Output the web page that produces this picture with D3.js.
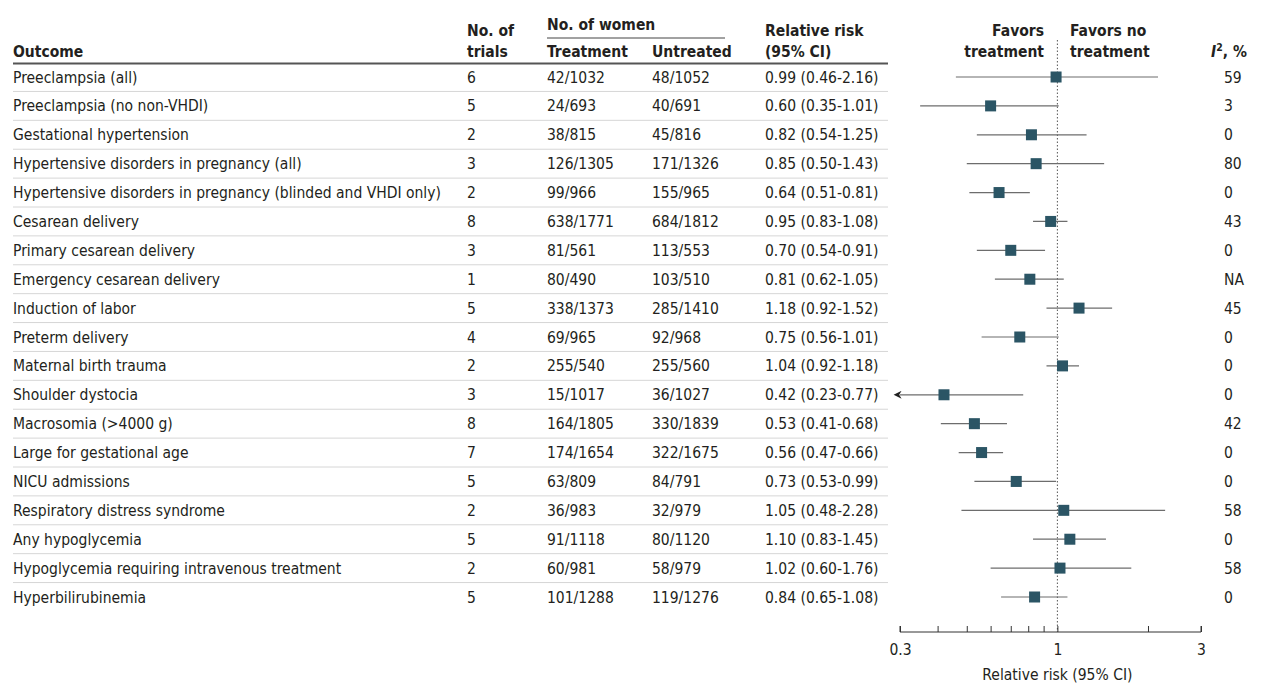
<!DOCTYPE html>
<html>
<head>
<meta charset="utf-8">
<script src="https://cdn.jsdelivr.net/npm/d3@7"></script>
<style>
  body { margin: 0; background: #fff; }
  svg text { font-family: "DejaVu Sans Condensed", "DejaVu Sans", sans-serif; fill: #231f20; }
</style>
</head>
<body>
<svg id="chart" width="1267" height="685"></svg>
<script>
var outcomes = [
  "Preeclampsia (all)",
  "Preeclampsia (no non-VHDI)",
  "Gestational hypertension",
  "Hypertensive disorders in pregnancy (all)",
  "Hypertensive disorders in pregnancy (blinded and VHDI only)",
  "Cesarean delivery",
  "Primary cesarean delivery",
  "Emergency cesarean delivery",
  "Induction of labor",
  "Preterm delivery",
  "Maternal birth trauma",
  "Shoulder dystocia",
  "Macrosomia (>4000 g)",
  "Large for gestational age",
  "NICU admissions",
  "Respiratory distress syndrome",
  "Any hypoglycemia",
  "Hypoglycemia requiring intravenous treatment",
  "Hyperbilirubinemia"
];
var trials = [6, 5, 2, 3, 2, 8, 3, 1, 5, 4, 2, 3, 8, 7, 5, 2, 5, 2, 5];
var treated = ["42/1032", "24/693", "38/815", "126/1305", "99/966", "638/1771", "81/561", "80/490",
  "338/1373", "69/965", "255/540", "15/1017", "164/1805", "174/1654", "63/809", "36/983",
  "91/1118", "60/981", "101/1288"];
var untreated = ["48/1052", "40/691", "45/816", "171/1326", "155/965", "684/1812", "113/553", "103/510",
  "285/1410", "92/968", "255/560", "36/1027", "330/1839", "322/1675", "84/791", "32/979",
  "80/1120", "58/979", "119/1276"];
var rr = [0.99, 0.60, 0.82, 0.85, 0.64, 0.95, 0.70, 0.81, 1.18, 0.75, 1.04, 0.42, 0.53, 0.56, 0.73, 1.05, 1.10, 1.02, 0.84];
var lower = [0.46, 0.35, 0.54, 0.50, 0.51, 0.83, 0.54, 0.62, 0.92, 0.56, 0.92, 0.23, 0.41, 0.47, 0.53, 0.48, 0.83, 0.60, 0.65];
var upper = [2.16, 1.01, 1.25, 1.43, 0.81, 1.08, 0.91, 1.05, 1.52, 1.01, 1.18, 0.77, 0.68, 0.66, 0.99, 2.28, 1.45, 1.76, 1.08];
var i2 = ["59", "3", "0", "80", "0", "43", "0", "NA", "45", "0", "0", "0", "42", "0", "0", "58", "0", "58", "0"];
var tickValues = [0.3, 0.4, 0.5, 0.6, 0.7, 0.8, 0.9, 1, 2, 3];
var tickLabels = {0.3: "0.3", 1: "1", 3: "3"};

var svg = d3.select("#chart");
var fs = 15.5;
var dark = "#2b5565";

var x = d3.scaleLog().domain([0.3, 3]).range([900, 1201]);
var y = d3.scaleLinear().domain([0, outcomes.length - 1]).range([77, 597]);
var step = y(1) - y(0);

var fmt = function (v) { return v.toFixed(2); };
var rows = outcomes.map(function (d, i) {
  return { name: d, trials: trials[i], t: treated[i], u: untreated[i],
    rr: rr[i], lo: lower[i], hi: upper[i], i2: i2[i], i: i };
});

// header
var head = svg.append("g").attr("font-size", fs).attr("font-weight", 600);
head.append("text").attr("x", 13).attr("y", 57).text("Outcome");
head.append("text").attr("x", 467).attr("y", 36).text("No. of");
head.append("text").attr("x", 467).attr("y", 57).text("trials");
head.append("text").attr("x", 547).attr("y", 30).text("No. of women");
head.append("text").attr("x", 547).attr("y", 57).text("Treatment");
head.append("text").attr("x", 652).attr("y", 57).text("Untreated");
head.append("text").attr("x", 765).attr("y", 36).text("Relative risk");
head.append("text").attr("x", 765).attr("y", 57).text("(95% CI)");
head.append("text").attr("x", 1044).attr("y", 36).attr("text-anchor", "end").text("Favors");
head.append("text").attr("x", 1044).attr("y", 57).attr("text-anchor", "end").text("treatment");
head.append("text").attr("x", 1070).attr("y", 36).text("Favors no");
head.append("text").attr("x", 1070).attr("y", 57).text("treatment");
var i2t = head.append("text").attr("x", 1211).attr("y", 57);
i2t.append("tspan").attr("font-style", "italic").text("I");
i2t.append("tspan").attr("font-size", 10.5).attr("dy", -6).text("2");
i2t.append("tspan").attr("dy", 6).text(", %");

svg.append("line").attr("x1", 547).attr("x2", 725).attr("y1", 38).attr("y2", 38)
  .attr("stroke", "#444").attr("stroke-width", 1);
svg.append("line").attr("x1", 13).attr("x2", 888).attr("y1", 63.5).attr("y2", 63.5)
  .attr("stroke", "#555").attr("stroke-width", 2);

// row separators
svg.append("g").selectAll("line")
  .data(rows.slice(0, -1))
  .enter().append("line")
  .attr("x1", 13).attr("x2", 888)
  .attr("y1", function (d) { return y(d.i) + step / 2; })
  .attr("y2", function (d) { return y(d.i) + step / 2; })
  .attr("stroke", "#d6d6d6").attr("stroke-width", 1);

// table text
var body = svg.append("g").attr("font-size", fs);
var row = body.selectAll("g.row").data(rows).enter().append("g")
  .attr("class", "row")
  .attr("transform", function (d) { return "translate(0," + (y(d.i) + 5.5) + ")"; });
row.append("text").attr("x", 13).text(function (d) { return d.name; });
row.append("text").attr("x", 467).text(function (d) { return d.trials; });
row.append("text").attr("x", 547).text(function (d) { return d.t; });
row.append("text").attr("x", 652).text(function (d) { return d.u; });
row.append("text").attr("x", 765).text(function (d) {
  return fmt(d.rr) + " (" + fmt(d.lo) + "-" + fmt(d.hi) + ")";
});
row.append("text").attr("x", 1224).text(function (d) { return d.i2; });

// reference line at 1
svg.append("line").attr("x1", x(1)).attr("x2", x(1)).attr("y1", 40).attr("y2", 632)
  .attr("stroke", "#555").attr("stroke-width", 1).attr("stroke-dasharray", "1.5,2");

svg.append("defs").append("marker")
  .attr("id", "arrow").attr("viewBox", "0 0 10 10")
  .attr("refX", 2).attr("refY", 5)
  .attr("markerWidth", 10).attr("markerHeight", 8).attr("markerUnits", "userSpaceOnUse")
  .attr("orient", "auto-start-reverse")
  .append("path").attr("d", "M0,0L10,5L0,10L3,5Z").attr("fill", "#222");

// CI lines and markers
var plot = svg.append("g");
plot.selectAll("line.ci").data(rows).enter().append("line")
  .attr("class", "ci")
  .attr("x1", function (d) { return x(Math.max(d.lo, 0.3)); })
  .attr("x2", function (d) { return x(Math.min(d.hi, 3)); })
  .attr("y1", function (d) { return y(d.i); })
  .attr("y2", function (d) { return y(d.i); })
  .attr("stroke", "#6d6d6d").attr("stroke-width", 1.2)
  .attr("marker-start", function (d) { return d.lo < 0.3 ? "url(#arrow)" : null; });

var ms = 11;
plot.selectAll("rect").data(rows).enter().append("rect")
  .attr("x", function (d) { return x(d.rr) - ms / 2; })
  .attr("y", function (d) { return y(d.i) - ms / 2; })
  .attr("width", ms).attr("height", ms)
  .attr("fill", dark);

// axis
var axis = d3.axisBottom(x).tickValues(tickValues).tickSize(6).tickSizeOuter(0)
  .tickFormat(function (d) { return tickLabels[d] || ""; });
var ax = svg.append("g").attr("transform", "translate(0,632)").call(axis);
ax.select(".domain").attr("stroke", "#333").attr("d", "M900,-6V0H1201V-6");
ax.selectAll(".tick line").attr("stroke", "#333").attr("y2", -6);
ax.selectAll(".tick text").attr("font-size", fs).attr("font-family", null)
  .attr("fill", "#231f20").attr("y", 12).attr("dy", "0.71em");
svg.append("text").attr("x", x(1)).attr("y", 680).attr("text-anchor", "middle")
  .attr("font-size", fs).text("Relative risk (95% CI)");
</script>
</body>
</html>
